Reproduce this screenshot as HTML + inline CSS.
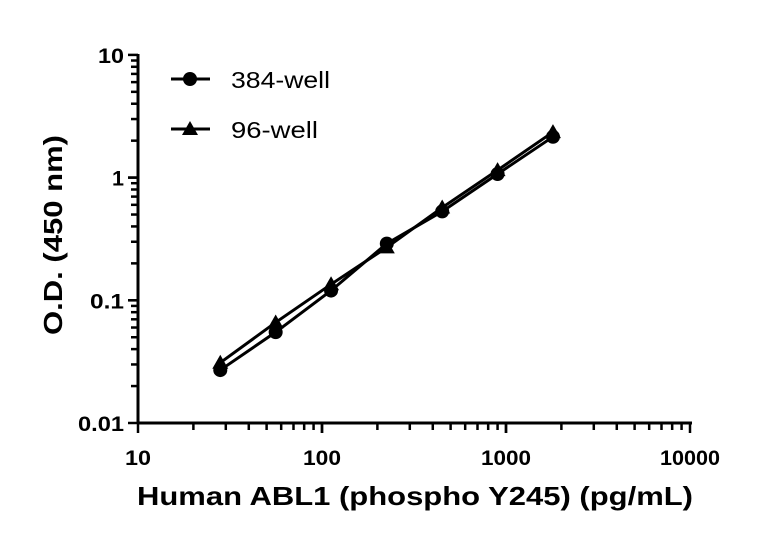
<!DOCTYPE html>
<html><head><style>body{margin:0;background:#fff}svg{display:block}</style></head>
<body>
<svg id="s" width="768" height="534" xmlns="http://www.w3.org/2000/svg" font-family="Liberation Sans, sans-serif"></svg>
<script>
const s=document.getElementById('s');
const px=x=>138+184*Math.log10(x/10);
const py=y=>423-122.7*(Math.log10(y)+2);
let h='';
h+='<line x1="138" y1="423" x2="692" y2="423" stroke="#000" stroke-width="3"/>';
h+='<line x1="138" y1="423" x2="138" y2="54" stroke="#000" stroke-width="3"/>';
for(let k=0;k<3;k++){const d=Math.pow(10,k);for(let m=1;m<=10;m++){const v=10*d*m;const x=px(v);const L=(m==1||m==10)?10:7;h+=`<line x1="${x}" y1="423" x2="${x}" y2="${423+L}" stroke="#000" stroke-width="2.5"/>`;}}
for(let k=0;k<3;k++){const d=Math.pow(10,k-2);for(let m=1;m<=10;m++){const y=py(d*m);const L=(m==1||m==10)?10:7;h+=`<line x1="138" y1="${y}" x2="${138-L}" y2="${y}" stroke="#000" stroke-width="2.5"/>`;}}
[['10',10,26],['100',100,38],['1000',1000,50],['10000',10000,60]].forEach(([t,v,w])=>h+=`<text x="${px(v)-w/2}" y="465" font-size="21" font-weight="bold" textLength="${w}" lengthAdjust="spacingAndGlyphs">${t}</text>`);
[['10',10,26],['1',1,12],['0.1',0.1,34],['0.01',0.01,46]].forEach(([t,v,w])=>h+=`<text x="${124-w}" y="${py(v)+8}" font-size="21" font-weight="bold" textLength="${w}" lengthAdjust="spacingAndGlyphs">${t}</text>`);
h+=`<text x="137" y="505" font-size="26" font-weight="bold" textLength="556" lengthAdjust="spacingAndGlyphs">Human ABL1 (phospho Y245) (pg/mL)</text>`;
h+=`<text transform="translate(62,335) rotate(-90)" font-size="26" font-weight="bold" textLength="200" lengthAdjust="spacingAndGlyphs">O.D. (450 nm)</text>`;
const xs=[28,56,112,225,450,900,1800];
const c=[0.027,0.055,0.12,0.29,0.53,1.07,2.15];
const t=[0.031,0.066,0.135,0.27,0.57,1.15,2.35];
const pl=a=>xs.map((x,i)=>px(x)+','+py(a[i])).join(' ');
h+=`<polyline points="${pl(c)}" fill="none" stroke="#000" stroke-width="3"/>`;
h+=`<polyline points="${pl(t)}" fill="none" stroke="#000" stroke-width="3"/>`;
xs.forEach((x,i)=>{const X=px(x),Y=py(t[i]);h+=`<polygon points="${X},${Y-8} ${X-8},${Y+6} ${X+8},${Y+6}" fill="#000"/>`;});
xs.forEach((x,i)=>h+=`<circle cx="${px(x)}" cy="${py(c[i])}" r="7" fill="#000"/>`);
h+='<line x1="171" y1="79" x2="210" y2="79" stroke="#000" stroke-width="3"/><circle cx="190" cy="79" r="7" fill="#000"/>';
h+='<text x="231" y="88" font-size="23" textLength="99" lengthAdjust="spacingAndGlyphs">384-well</text>';
h+='<line x1="171" y1="129" x2="210" y2="129" stroke="#000" stroke-width="3"/><polygon points="190,121 182,135 198,135" fill="#000"/>';
h+='<text x="231" y="138" font-size="23" textLength="87" lengthAdjust="spacingAndGlyphs">96-well</text>';
s.innerHTML=h;
</script>
</body></html>
